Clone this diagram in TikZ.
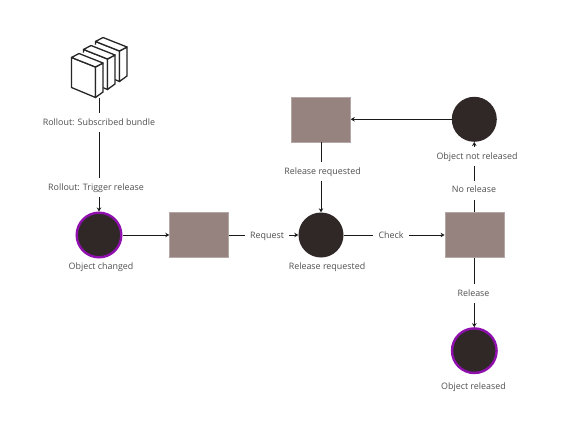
\documentclass[tikz,border=0pt]{standalone}
\usepackage{fontspec}
\setmainfont{Open Sans}
\usetikzlibrary{arrows.meta}
\definecolor{boxc}{HTML}{96827F}
\definecolor{dotc}{HTML}{2F2826}
\definecolor{ringc}{HTML}{9010AE}
\definecolor{txtc}{HTML}{505050}
\tikzset{
  x=1pt,y=-1pt,
  boxn/.style={draw=boxc!70!white,line width=.5pt,fill=boxc,minimum width=59pt,minimum height=45pt,inner sep=0pt},
  dotn/.style={circle,fill=dotc,minimum size=45pt,inner sep=0pt},
  ringn/.style={dotn,draw=ringc,line width=2.4pt,minimum size=44.6pt},
  lab/.style={font=\fontsize{8.9pt}{10pt}\selectfont,text=txtc,fill=white,inner xsep=5.5pt,inner ysep=5pt,text height=7pt,text depth=2pt},
  captext/.style={font=\fontsize{8.9pt}{10pt}\selectfont,text=txtc,inner sep=0pt},
  conn/.style={draw=black!90,line width=1pt,-{Stealth[length=4pt,width=4.5pt]}},
  iconl/.style={draw=black!85,line width=1.3pt,fill=white,line join=round}
}
\begin{document}
\begin{tikzpicture}
\useasboundingbox (0,0) rectangle (568,426);
% icon boxes, back to front
\foreach \dx/\dy in {24/-16,12/-8,0/0}{
  \begin{scope}[shift={(\dx,\dy)}]
    \fill[white] (71.5,57.5) -- (84,52.5) -- (103,60.5) -- (103,92) -- (95.5,97.5) -- (71.5,87.5) -- cycle;
    \draw[iconl] (71.5,57.5) -- (95.5,67) -- (95.5,97.5) -- (71.5,87.5) -- cycle;
    \draw[iconl] (95.5,67) -- (103,63) -- (103,92) -- (95.5,97.5) -- cycle;
    \draw[iconl] (71.5,57.5) -- (79,53.5) -- (103,63) -- (95.5,67) -- cycle;
  \end{scope}
}
\node[inner sep=0pt,minimum size=0pt] (icon) at (99,97.5) {};
\node[ringn] (oc) at (99,235) {};
\node[boxn] (b1) at (199,235) {};
\node[dotn] (rr) at (321,235) {};
\node[boxn] (b2) at (321,119.3) {};
\node[boxn] (b3) at (474.3,235) {};
\node[dotn] (nr) at (474.3,119.3) {};
\node[ringn] (or) at (474.3,350.7) {};
% connectors
\draw[conn] (icon) -- (oc);
\draw[conn] (oc) -- (b1);
\draw[conn] (b1) -- (rr);
\draw[conn] (b2) -- (rr);
\draw[conn] (rr) -- (b3);
\draw[conn] (b3) -- (or);
\draw[conn] (b3) -- (nr);
\draw[conn] (nr) -- (b2);
% labels
\node[lab] (l1) at (99,122.7) {Rollout: Subscribed bundle};
\node[lab] (l2) at (96,187.7) {Rollout: Trigger release};
\node[captext] (c1) at (101,267.3) {Object changed};
\node[lab] (l3) at (267,236) {Request};
\node[lab] (l4) at (391,236) {Check};
\node[lab] (l5) at (322.5,171.7) {Release requested};
\node[captext] (c2) at (327,267.3) {Release requested};
\node[lab] (l6) at (477,156.7) {Object not released};
\node[lab] (l7) at (474,190.2) {No release};
\node[lab] (l8) at (473.5,293.7) {Release};
\node[captext] (c3) at (473.5,387.2) {Object released};
\end{tikzpicture}
\end{document}
